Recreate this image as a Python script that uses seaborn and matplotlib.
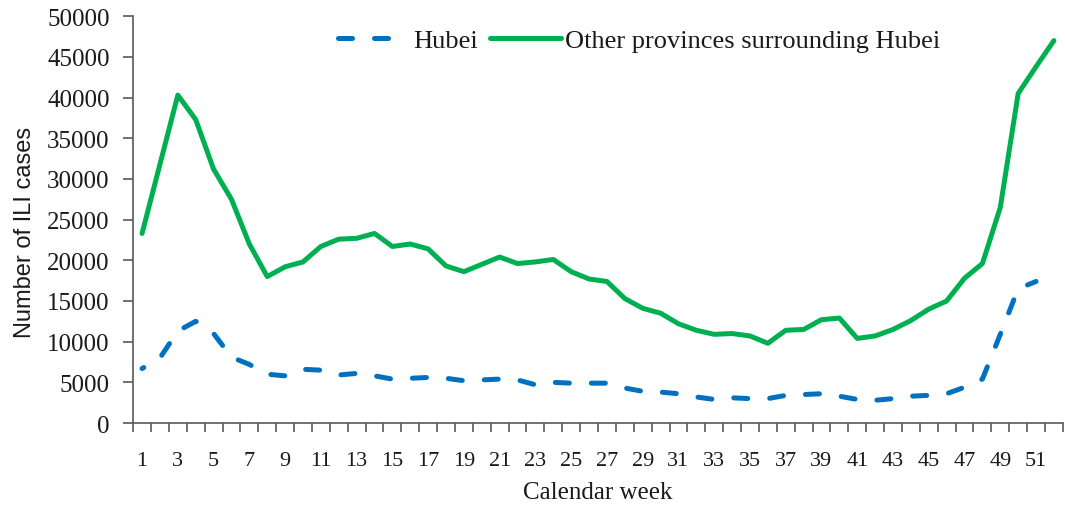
import numpy as np
import pandas as pd
import matplotlib
matplotlib.use("Agg")
import matplotlib.pyplot as plt
from matplotlib.ticker import MultipleLocator, FixedLocator
import seaborn as sns

weeks = list(range(1, 53))

other_provinces = [
    23300, 31800, 40300, 37300, 31200, 27500, 22000, 18000, 19200, 19800,
    21700, 22600, 22700, 23300, 21700, 22000, 21400, 19300, 18600, 19500,
    20400, 19600, 19800, 20100, 18600, 17700, 17400, 15300, 14100, 13500,
    12200, 11400, 10900, 11000, 10700, 9800, 11400, 11500, 12700, 12900,
    10400, 10700, 11500, 12600, 14000, 15000, 17800, 19600, 26500, 40500,
    43800, 47000,
]

hubei = [
    6700, 8000, 11300, 12500, 11000, 8100, 7200, 6000, 5800, 6600,
    6500, 5900, 6100, 5800, 5400, 5500, 5600, 5500, 5200, 5300,
    5400, 5300, 4700, 5000, 4900, 4900, 4900, 4300, 3900, 3800,
    3600, 3200, 2900, 3100, 3000, 3000, 3400, 3500, 3600, 3300,
    2900, 2800, 3000, 3300, 3400, 3600, 4400, 5400, 10900, 16500,
    17400, np.nan,
]

df = pd.DataFrame({"week": weeks, "Hubei": hubei,
                   "Other provinces surrounding Hubei": other_provinces})

sns.set_style("white")
plt.rcParams["font.family"] = ["Liberation Serif", "DejaVu Serif"]
plt.rcParams["text.color"] = "#1a1a1a"
plt.rcParams["xtick.color"] = "#1a1a1a"
plt.rcParams["ytick.color"] = "#1a1a1a"
plt.rcParams["axes.labelcolor"] = "#1a1a1a"

fig = plt.figure(figsize=(10.65, 5.06), dpi=100)
ax = fig.add_axes([0.125, 0.162, 0.873, 0.804])

sns.lineplot(data=df, x="week", y="Hubei", ax=ax, color="#0070C0",
             linewidth=3.6, label="Hubei")
ax.lines[-1].set_linestyle((2.4, (2.8, 4.4)))
ax.lines[-1].set_dash_capstyle("round")
sns.lineplot(data=df, x="week", y="Other provinces surrounding Hubei", ax=ax,
             color="#00B050", linewidth=3.6,
             label="Other provinces surrounding Hubei")
ax.lines[-1].set_solid_capstyle("round")

ax.set_xlim(0.5, 52.5)
ax.set_ylim(0, 50000)
ax.yaxis.set_major_locator(MultipleLocator(5000))
ax.xaxis.set_major_locator(FixedLocator(list(range(1, 53, 2))))
ax.xaxis.set_minor_locator(FixedLocator([w + 0.5 for w in range(0, 53)]))

for side in ["top", "right"]:
    ax.spines[side].set_visible(False)
for side in ["left", "bottom"]:
    ax.spines[side].set_color("#595959")
    ax.spines[side].set_linewidth(1.2)

ax.tick_params(axis="x", which="major", length=0, pad=20, labelsize=16)
ax.tick_params(axis="x", which="minor", length=6.5, width=1.2,
               color="#595959", direction="out", bottom=True)
ax.tick_params(axis="y", which="major", length=7, width=1.2,
               color="#595959", direction="out", left=True, pad=10,
               labelsize=18)

ax.set_xlabel("Calendar week", fontsize=18, labelpad=8)
ax.set_ylabel("Number of ILI cases", fontsize=17, labelpad=8,
              family=["Liberation Sans", "DejaVu Sans"])
ax.yaxis.label.set_y(0.472)

# legend handle keeps the plain dash pattern, starting on a dash
leg = ax.legend(loc="center", bbox_to_anchor=(0.544, 0.94), ncol=2,
                frameon=False, fontsize=19, handlelength=2.7,
                columnspacing=0.45, handletextpad=0.15)
leg.get_lines()[0].set_dashes([2.8, 4.4])
for h in leg.get_lines():
    h.set_dash_capstyle("round")
    h.set_solid_capstyle("round")

fig.savefig("out.png", dpi=100)
